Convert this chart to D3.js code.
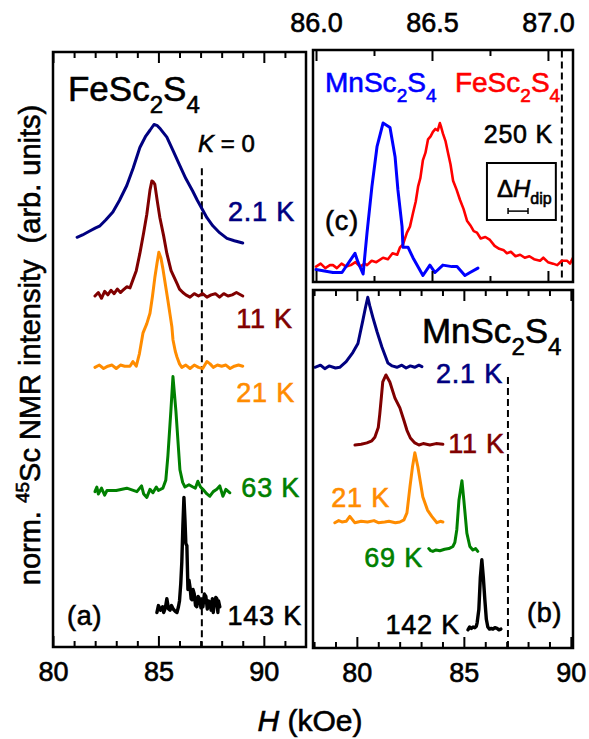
<!DOCTYPE html>
<html><head><meta charset="utf-8">
<script src="https://cdn.jsdelivr.net/npm/d3@7"></script>
<style>
body{margin:0;background:#fff}
svg text{font-family:"Liberation Sans",Arial,Helvetica,sans-serif;white-space:pre;stroke-width:0.6px}
</style>
</head><body>
<svg id="chart" width="589" height="739"></svg>
<script>
// ---------------- DATA ----------------
// Panel (a): FeSc2S4 spectra, H in kOe, normalized intensity
const tempsA = ["2.1 K", "11 K", "21 K", "63 K", "143 K"];
const colorsA = ["#000080", "#800000", "#ff8c00", "#008000", "#000000"];
const offsetsA = [3.54, 3.05, 2.43, 1.35, 0.30];
const hA_2K = [81.14,81.4,81.7,82.0,82.23,82.5,82.84,83.15,83.5,83.8,84.12,84.4,84.6,84.79,84.95,85.1,85.4,85.7,86.0,86.3,86.63,86.85,87.06,87.3,87.58,87.9,88.25,88.6,89.0];
const iA_2K = [0.02,0.04,0.07,0.10,0.12,0.17,0.24,0.34,0.47,0.62,0.80,0.90,0.95,1.0,0.99,0.96,0.89,0.77,0.65,0.53,0.42,0.34,0.27,0.19,0.12,0.06,0.01,-0.01,-0.03];
const hA_11K = [81.99,82.15,82.3,82.45,82.6,82.75,82.9,83.05,83.2,83.32,83.5,83.65,83.79,83.95,84.12,84.3,84.45,84.6,84.69,84.76,84.83,84.95,85.07,85.25,85.4,85.6,85.88,86.0,86.16,86.3,86.5,86.7,86.9,87.1,87.3,87.5,87.7,87.9,88.1,88.3,88.5,88.7,89.0];
const iA_11K = [0.0,0.03,-0.02,0.04,0.01,0.05,0.02,0.06,0.03,0.05,0.08,0.07,0.14,0.22,0.37,0.55,0.71,0.92,1.0,0.99,0.97,0.82,0.68,0.52,0.37,0.22,0.11,0.06,0.03,0.01,-0.01,0.02,0.0,0.02,-0.01,0.01,0.02,-0.01,0.02,0.0,0.01,0.03,0.0];
const hA_21K = [81.99,82.2,82.4,82.6,82.8,83.0,83.2,83.4,83.65,83.79,83.95,84.1,84.27,84.45,84.6,84.72,84.83,84.93,85.02,85.12,85.21,85.33,85.45,85.55,85.64,85.69,85.8,85.88,86.0,86.11,86.3,86.5,86.7,86.9,87.1,87.3,87.45,87.6,87.8,88.0,88.2,88.4,88.6,88.8,89.0];
const iA_21K = [0.0,0.02,-0.01,0.01,0.02,-0.01,0.02,0.01,0.01,0.05,0.01,0.12,0.30,0.38,0.47,0.62,0.78,0.90,1.0,0.95,0.86,0.72,0.58,0.46,0.35,0.24,0.14,0.09,0.03,0.0,0.02,-0.01,0.02,0.0,-0.01,0.05,0.03,0.0,0.02,0.01,0.02,-0.01,0.01,0.02,0.01];
const hA_63K = [81.99,82.08,82.15,82.3,82.45,82.56,83.0,83.5,83.98,84.2,84.3,84.45,84.6,84.74,84.9,85.0,85.21,85.35,85.45,85.59,85.69,85.76,85.83,86.02,86.15,86.26,86.45,86.64,86.75,86.87,87.0,87.11,87.3,87.44,87.6,87.77,87.91,88.06,88.2,88.39];
const iA_63K = [0.0,0.04,-0.02,0.03,-0.03,0.01,0.01,0.03,0.0,0.05,-0.02,-0.05,0.02,-0.01,0.04,0.01,0.03,0.1,0.31,0.70,1.0,0.85,0.70,0.19,0.08,0.04,0.06,0.04,0.03,0.09,0.04,0.02,-0.02,-0.04,0.0,0.02,0.05,-0.04,0.02,-0.01];
const hA_143K = [84.93,85.0,85.1,85.2,85.25,85.33,85.4,85.48,85.55,85.62,85.7,85.8,85.88,85.95,86.0,86.06,86.11,86.16,86.21,86.26,86.3,86.35,86.4,86.45,86.5,86.55,86.59,86.64,86.7,86.76,86.82,86.88,86.95,87.02,87.11,87.18,87.25,87.32,87.38,87.44,87.5,87.56,87.6,87.66,87.72,87.77,87.82,87.85,87.91];
const iA_143K = [0.0,0.06,0.02,0.05,0.0,0.04,0.12,0.03,0.02,0.06,0.03,0.01,0.0,0.05,0.1,0.25,0.44,0.75,1.0,0.8,0.6,0.58,0.2,0.28,0.22,0.12,0.11,0.2,0.16,0.06,0.05,0.14,0.12,0.04,0.05,0.16,0.14,0.03,0.1,0.09,0.02,0.12,0.0,0.08,0.13,0.12,0.0,0.1,0.05];
const labelXA = [91.48, 91.38, 91.48, 91.72, 91.81];
const labelYA = [3.70, 2.77, 2.13, 1.30, 0.19];

// Panel (b): MnSc2S4 spectra
const tempsB = ["2.1 K", "11 K", "21 K", "69 K", "142 K"];
const colorsB = ["#000080", "#800000", "#ff8c00", "#008000", "#000000"];
const offsetsB = [4.01, 2.90, 1.79, 1.39, 0.26];
const hB_2K = [78.04,78.3,78.5,78.7,79.0,79.2,79.5,79.81,80.05,80.28,80.4,80.51,80.6,80.75,80.95,81.17,81.45,81.65,81.87,82.1,82.3,82.5,82.7,82.9,83.04];
const iB_2K = [0.0,0.03,-0.02,0.02,-0.01,0.0,0.08,0.21,0.34,0.67,0.85,1.0,0.88,0.71,0.5,0.29,0.06,0.02,0.0,0.03,-0.01,0.02,0.0,0.03,0.01];
const hB_11K = [79.91,80.2,80.47,80.7,80.84,81.0,81.07,81.15,81.21,81.36,81.54,81.78,82.01,82.2,82.34,82.5,82.71,82.9,83.1,83.41,83.7,84.02];
const iB_11K = [0.0,0.01,0.03,0.06,0.11,0.25,0.44,0.7,0.90,1.0,0.90,0.67,0.53,0.35,0.21,0.1,0.03,0.0,0.02,0.0,0.02,0.01];
const hB_21K = [78.97,79.15,79.3,79.5,79.67,79.9,80.2,80.5,80.8,81.0,81.3,81.5,81.8,82.01,82.2,82.34,82.48,82.6,82.71,82.85,83.08,83.3,83.5,83.74,83.9,84.02];
const iB_21K = [0.0,0.03,0.01,0.02,0.09,0.0,0.02,0.01,0.03,0.0,0.01,0.02,0.0,0.01,0.04,0.14,0.51,0.8,1.0,0.8,0.37,0.18,0.09,0.0,0.02,0.01];
const hB_69K = [83.36,83.45,83.55,83.7,83.88,84.1,84.3,84.49,84.58,84.67,84.77,84.91,85.0,85.14,85.28,85.42,85.55,85.65];
const iB_69K = [0.03,0.0,-0.01,0.01,0.0,0.02,0.03,0.06,0.12,0.3,0.72,1.0,0.72,0.25,0.06,0.01,0.03,-0.01];
const hB_142K = [85.19,85.27,85.35,85.43,85.51,85.58,85.62,85.7,85.77,85.84,85.91,85.98,86.05,86.12,86.2,86.28,86.36,86.45,86.55,86.64,86.73];
const iB_142K = [0.0,0.04,0.02,0.04,0.03,0.05,0.1,0.29,0.75,1.0,0.75,0.43,0.15,0.04,0.01,0.02,0.01,0.03,0.02,0.0,0.01];
const labelXB = [86.83, 86.92, 81.55, 83.09, 84.82];
const labelYB = [3.79, 2.79, 2.01, 1.16, 0.20];

// Panel (c): 250 K comparison
const hC_Mn = [86.0,86.073,86.112,86.168,86.181,86.203,86.22,86.241,86.263,86.289,86.319,86.341,86.353,86.371,86.375,86.397,86.418,86.461,86.491,86.513,86.547,86.586,86.608,86.642,86.664,86.698];
const iC_Mn = [0.01,-0.01,-0.01,0.12,0.06,-0.02,0.26,0.57,0.84,1.0,0.97,0.77,0.55,0.30,0.16,0.16,0.09,-0.03,0.04,-0.01,0.04,0.03,0.03,-0.03,-0.01,0.02];
const hC_Fe = [86.0,86.02,86.04,86.06,86.073,86.09,86.11,86.13,86.15,86.17,86.19,86.21,86.22,86.24,86.26,86.289,86.31,86.33,86.35,86.362,86.375,86.392,86.405,86.418,86.43,86.44,86.45,86.461,86.472,86.483,86.494,86.504,86.515,86.525,86.534,86.54,86.547,86.558,86.569,86.58,86.591,86.606,86.621,86.636,86.651,86.665,86.68,86.694,86.71,86.73,86.75,86.77,86.79,86.81,86.823,86.84,86.86,86.88,86.9,86.92,86.94,86.966,86.98,87.0,87.022,87.04,87.06,87.082,87.095,87.108];
const iC_Fe = [0.03,0.05,0.02,0.04,0.04,0.02,0.05,0.03,0.04,0.06,0.03,0.05,0.04,0.07,0.06,0.09,0.08,0.12,0.11,0.16,0.18,0.26,0.30,0.39,0.47,0.57,0.63,0.75,0.80,0.89,0.91,0.94,0.96,0.95,1.0,0.97,0.93,0.88,0.80,0.72,0.61,0.55,0.48,0.42,0.34,0.31,0.27,0.26,0.22,0.23,0.21,0.17,0.15,0.14,0.12,0.13,0.10,0.11,0.09,0.10,0.08,0.07,0.09,0.06,0.05,0.04,0.07,0.07,0.05,0.09];

// Reference field K = 0 (kOe) and dipolar width
const kZero = 87.06;
const dHdip = [86.828, 86.914];

// Tick values
const ticksMajorAB = [80, 85, 90];
const ticksMinorA = [81,82,83,84,86,87,88,89,91];
const ticksMinorB = [78,79,81,82,83,84,86,87,88,89];
const ticksMajorC = [86.0, 86.5, 87.0];
const ticksMinorC = [86.25, 86.75];

// ---------------- DRAWING ----------------
const svg = d3.select("#chart");
const FS_TICK = 27, FS_LAB = 27;

const xA = d3.scaleLinear().domain([80, 92]).range([53, 306]);
const yA = d3.scaleLinear().domain([0, 5.17]).range([647, 52]);
const xB = d3.scaleLinear().domain([77.95, 90.1]).range([313, 573]);
const yB = d3.scaleLinear().domain([0, 5.114]).range([648, 290]);
const xC = d3.scaleLinear().domain([85.987, 87.108]).range([313, 573]);
const yC = d3.scaleLinear().domain([-0.074, 1.4936]).range([282, 50]);

function clip(id, x, y) {
  svg.append("clipPath").attr("id", id).append("rect")
    .attr("x", x.range()[0]).attr("y", y.range()[1])
    .attr("width", x.range()[1] - x.range()[0]).attr("height", y.range()[0] - y.range()[1]);
}
clip("clipA", xA, yA); clip("clipB", xB, yB); clip("clipC", xC, yC);

function ticks(x, y, major, minor, labelsBottom, labelsTop, fmt) {
  const yb = y.range()[0], yt = y.range()[1];
  const g = svg.append("g");
  const mk = (axisFn, pos, vals, size, labels) => {
    const ax = axisFn(x).tickValues(vals).tickSize(-size).tickPadding(labels ? (axisFn === d3.axisTop ? 18 : 15) : 0)
      .tickFormat(labels ? fmt : () => "");
    const gg = g.append("g").attr("transform", `translate(0,${pos})`).call(ax);
    gg.select(".domain").remove();
    gg.selectAll("line").attr("stroke", "#000").attr("stroke-width", 2);
    gg.selectAll("text").attr("font-size", FS_TICK).attr("fill", "#000").attr("stroke", "#000")
      .style("font-family", '"Liberation Sans",Arial,Helvetica,sans-serif');
  };
  mk(d3.axisBottom, yb, major, 11, labelsBottom);
  mk(d3.axisBottom, yb, minor, 6, false);
  mk(d3.axisTop, yt, major, 11, labelsTop);
  mk(d3.axisTop, yt, minor, 6, false);
}

function frame(x, y) {
  svg.append("rect").attr("x", x.range()[0]).attr("y", y.range()[1])
    .attr("width", x.range()[1] - x.range()[0]).attr("height", y.range()[0] - y.range()[1])
    .attr("fill", "none").attr("stroke", "#000").attr("stroke-width", 2.5);
}

function curve(x, y, clipId, H, I, off, color, sw) {
  const pts = H.map((h, i) => [h, I[i] + off]);
  svg.append("path").datum(pts)
    .attr("clip-path", `url(#${clipId})`)
    .attr("fill", "none").attr("stroke", color).attr("stroke-width", sw)
    .attr("stroke-linejoin", "round").attr("stroke-linecap", "round")
    .attr("d", d3.line().x(d => x(d[0])).y(d => y(d[1])));
}

function dashed(x, y, y0, y1) {
  svg.append("line").attr("x1", x(kZero)).attr("x2", x(kZero))
    .attr("y1", y(y0)).attr("y2", y(y1))
    .attr("stroke", "#000").attr("stroke-width", 2).attr("stroke-dasharray", "7,4");
}

function text(x, y, str, size, color, anchor) {
  return svg.append("text").attr("x", x).attr("y", y).attr("font-size", size)
    .attr("fill", color || "#000").attr("stroke", color || "#000")
    .attr("text-anchor", anchor || "start").attr("letter-spacing", 0.8).text(str);
}

function formula(x, y, parts, size, color) {
  const t = svg.append("text").attr("x", x).attr("y", y).attr("font-size", size)
    .attr("fill", color).attr("stroke", color);
  const sub = Math.round(size * 0.68), sh = Math.round(size * 0.34);
  t.append("tspan").text(parts[0]);
  t.append("tspan").attr("font-size", sub).attr("dy", sh).text(parts[1]);
  t.append("tspan").attr("dy", -sh).text(parts[2]);
  t.append("tspan").attr("font-size", sub).attr("dy", sh).text(parts[3]);
  return t;
}

// ---- Panel (a)
const seriesA = [[hA_2K, iA_2K], [hA_11K, iA_11K], [hA_21K, iA_21K], [hA_63K, iA_63K], [hA_143K, iA_143K]];
dashed(xA, yA, 4.16, 0);
seriesA.forEach((s, k) => curve(xA, yA, "clipA", s[0], s[1], offsetsA[k], colorsA[k], k === 4 ? 3.4 : 3));
tempsA.forEach((t, k) => text(xA(labelXA[k]), yA(labelYA[k]), t, FS_LAB, colorsA[k], "end"));
formula(xA(80.71), yA(4.74), ["FeSc", "2", "S", "4"], 35, "#000");
{
  const t = svg.append("text").attr("x", xA(86.88)).attr("y", yA(4.30)).attr("font-size", 24)
    .attr("fill", "#000").attr("stroke", "#000");
  t.append("tspan").attr("font-style", "italic").text("K");
  t.append("tspan").text(" = 0");
}
text(xA(80.66), yA(0.19), "(a)", FS_LAB, "#000");
ticks(xA, yA, ticksMajorAB, ticksMinorA, true, false, d3.format("d"));
frame(xA, yA);

// ---- Panel (b)
const seriesB = [[hB_2K, iB_2K], [hB_11K, iB_11K], [hB_21K, iB_21K], [hB_69K, iB_69K], [hB_142K, iB_142K]];
dashed(xB, yB, 3.87, 0);
seriesB.forEach((s, k) => curve(xB, yB, "clipB", s[0], s[1], offsetsB[k], colorsB[k], k === 4 ? 3.4 : 3));
tempsB.forEach((t, k) => text(xB(labelXB[k]), yB(labelYB[k]), t, FS_LAB, colorsB[k], "end"));
formula(xB(83.04), yB(4.36), ["MnSc", "2", "S", "4"], 35, "#000");
text(xB(87.95), yB(0.37), "(b)", FS_LAB, "#000");
ticks(xB, yB, ticksMajorAB, ticksMinorB, true, false, d3.format("d"));
frame(xB, yB);

// ---- Panel (c)
dashed(xC, yC, 1.49, -0.074);
curve(xC, yC, "clipC", hC_Fe, iC_Fe, 0, "#ff0000", 2.6);
curve(xC, yC, "clipC", hC_Mn, iC_Mn, 0, "#0000ff", 3);
formula(xC(86.039), yC(1.21), ["MnSc", "2", "S", "4"], 28, "#0000ff");
formula(xC(86.599), yC(1.21), ["FeSc", "2", "S", "4"], 28, "#ff0000");
text(xC(87.022), yC(0.865), "250 K", 25, "#000", "end");
text(xC(86.039), yC(0.277), "(c)", FS_LAB, "#000");
svg.append("rect").attr("x", xC(86.737)).attr("y", yC(0.73))
  .attr("width", xC(87.034) - xC(86.737)).attr("height", yC(0.345) - yC(0.73))
  .attr("fill", "none").attr("stroke", "#000").attr("stroke-width", 2);
{
  const t = svg.append("text").attr("x", xC(86.78)).attr("y", yC(0.5)).attr("font-size", 24)
    .attr("fill", "#000").attr("stroke", "#000");
  t.append("tspan").text("Δ");
  t.append("tspan").attr("font-style", "italic").text("H");
  t.append("tspan").attr("font-size", 16).attr("dy", 7).text("dip");
  const yb = yC(0.405);
  const g = svg.append("g").attr("stroke", "#000").attr("stroke-width", 1.5);
  g.append("line").attr("x1", xC(dHdip[0])).attr("x2", xC(dHdip[1])).attr("y1", yb).attr("y2", yb);
  g.append("line").attr("x1", xC(dHdip[0])).attr("x2", xC(dHdip[0])).attr("y1", yb - 3).attr("y2", yb + 3);
  g.append("line").attr("x1", xC(dHdip[1])).attr("x2", xC(dHdip[1])).attr("y1", yb - 3).attr("y2", yb + 3);
}
ticks(xC, yC, ticksMajorC, ticksMinorC, false, true, d3.format(".1f"));
frame(xC, yC);

// ---- Axis titles
{
  const t = svg.append("text").attr("transform", "translate(40,345) rotate(-90)")
    .attr("text-anchor", "middle").attr("font-size", 29).attr("fill", "#000").attr("stroke", "#000");
  t.append("tspan").text("norm. ");
  t.append("tspan").attr("font-size", 19).attr("dy", -11).text("45");
  t.append("tspan").attr("dy", 11).text("Sc NMR intensity  (arb. units)");
}
{
  const t = svg.append("text").attr("x", 310).attr("y", 731)
    .attr("text-anchor", "middle").attr("font-size", 30).attr("fill", "#000").attr("stroke", "#000");
  t.append("tspan").attr("font-style", "italic").text("H");
  t.append("tspan").text(" (kOe)");
}
</script>
</body></html>
